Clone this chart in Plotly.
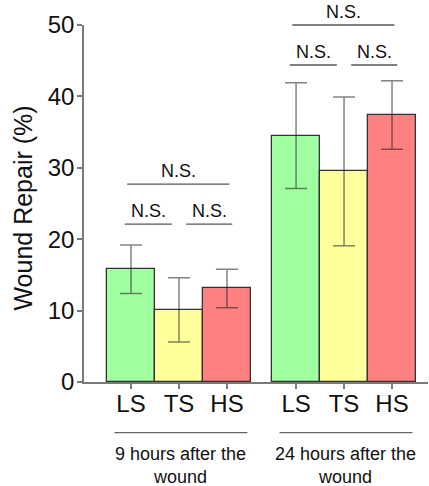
import plotly.graph_objects as go

# ---- data ----
categories = ["LS", "TS", "HS"]
groups = ["9 hours after the<br>wound", "24 hours after the<br>wound"]
means_9h = [15.8, 10.1, 13.1]
err_9h = [3.4, 4.5, 2.7]
means_24h = [34.5, 29.5, 37.4]
err_24h = [7.4, 10.4, 4.8]
sig_label = "N.S."
sig_lower_levels = [22.1, 44.4]
sig_upper_levels = [27.7, 50.0]
bar_colors = ["#A0FFA0", "#FFFF9C", "#FF8080"]

# ---- layout params ----
GAP = 0.44
YMAX = 50
FONT = "Liberation Sans, Arial, sans-serif"
AXC = "#7a7a7a"

means = [means_9h, means_24h]
errs = [err_9h, err_24h]

fig = go.Figure()
tickvals, ticktext = [], []
shapes, annotations = [], []

for g, (m, e) in enumerate(zip(means, errs)):
    start = g * (len(categories) + GAP)
    xs = [start + i for i in range(len(categories))]
    tickvals += xs
    ticktext += categories
    fig.add_trace(go.Bar(
        x=xs, y=m, width=1.0,
        marker=dict(color=bar_colors, line=dict(color="#333333", width=1.3)),
        error_y=dict(type="data", array=e, visible=True, color="rgba(30,30,30,0.55)",
                     thickness=1.5, width=11),
        showlegend=False, hoverinfo="skip",
    ))
    # significance brackets
    lo = sig_lower_levels[g] / YMAX
    hi = sig_upper_levels[g] / YMAX
    for (a, b, lvl) in [(-0.13, 0.85, lo), (1.15, 2.11, lo), (-0.08, 2.05, hi)]:
        shapes.append(dict(type="line", xref="x", yref="paper",
                           x0=start + a, x1=start + b, y0=lvl, y1=lvl,
                           line=dict(color="#555555", width=1.3)))
        annotations.append(dict(text=sig_label, xref="x", yref="paper",
                                x=start + (a + b) / 2, y=lvl, yanchor="bottom",
                                xanchor="center", showarrow=False, yshift=1,
                                font=dict(family=FONT, size=18, color="#111111")))
    # group labels
    gc = start + 1.04
    shapes.append(dict(type="line", xref="x", yref="paper",
                       x0=gc - 1.385, x1=gc + 1.385, y0=-0.1417, y1=-0.1417,
                       line=dict(color="#666666", width=1.3)))
    annotations.append(dict(text=groups[g], xref="x", yref="paper", x=gc, y=-0.234,
                            yanchor="middle", xanchor="center", showarrow=False,
                            font=dict(family=FONT, size=18, color="#111111")))

annotations.append(dict(text="Wound Repair (%)", xref="paper", yref="paper",
                        x=-0.178, y=0.488, textangle=-90, showarrow=False,
                        xanchor="center", yanchor="middle",
                        font=dict(family=FONT, size=25, color="#111111")))

fig.update_layout(
    width=429, height=486,
    margin=dict(l=84, r=1, t=25, b=104, pad=0),
    paper_bgcolor="white", plot_bgcolor="white",
    bargap=0, barmode="overlay",
    shapes=shapes, annotations=annotations,
    font=dict(family=FONT, color="#111111"),
    xaxis=dict(range=[-0.98, 6.19], tickmode="array", tickvals=tickvals, ticktext=ticktext,
               showline=True, linecolor=AXC, linewidth=1.5, ticks="outside", ticklen=5,
               tickcolor=AXC, tickwidth=1.5, showgrid=False, zeroline=False,
               tickfont=dict(family=FONT, size=24, color="#111111"), ticklabelstandoff=-6),
    yaxis=dict(range=[0, YMAX], tickmode="array", tickvals=[0, 10, 20, 30, 40, 50],
               showline=True, linecolor=AXC, linewidth=1.5, ticks="outside", ticklen=5,
               tickcolor=AXC, tickwidth=1.5, showgrid=False, zeroline=False,
               tickfont=dict(family=FONT, size=24, color="#111111"), ticklabelstandoff=-2),
)

fig.write_html("out.html")
